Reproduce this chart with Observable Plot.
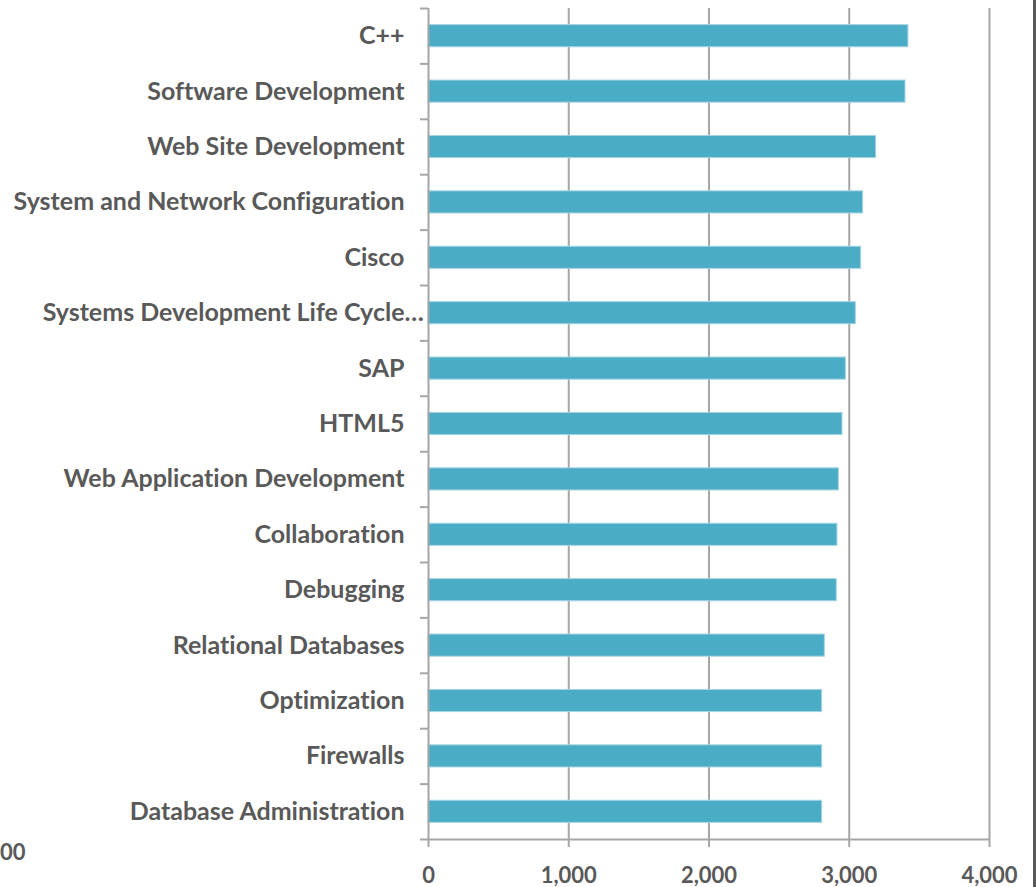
<!DOCTYPE html>
<html>
<head>
<meta charset="utf-8">
<script src="https://cdn.jsdelivr.net/npm/d3@7"></script>
<script src="https://cdn.jsdelivr.net/npm/@observablehq/plot@0.6"></script>
<style>
  html, body { margin: 0; padding: 0; background: #fff; }
  #wrap { position: relative; width: 1036px; height: 887px; overflow: hidden; background: #fff; }
  #edge { position: absolute; left: 1033px; top: 0; width: 3px; height: 887px; background: #595959; }
  #stray { position: absolute; left: 0; top: 840px; width: 22px; text-align: right; font: bold 22px Lato, sans-serif; color: #595959; line-height: 24px; }
  svg text { font-variant-ligatures: none; }
</style>
</head>
<body>
<div id="wrap"><div id="chart"></div><div id="stray">00</div><div id="edge"></div></div>
<script>
const categories = [
  "C++",
  "Software Development",
  "Web Site Development",
  "System and Network Configuration",
  "Cisco",
  "Systems Development Life Cycle…",
  "SAP",
  "HTML5",
  "Web Application Development",
  "Collaboration",
  "Debugging",
  "Relational Databases",
  "Optimization",
  "Firewalls",
  "Database Administration"
];
const values = [3422, 3401, 3192, 3099, 3085, 3047, 2976, 2952, 2926, 2916, 2911, 2826, 2807, 2807, 2807];
const xTicks = [0, 1000, 2000, 3000, 4000];

const data = categories.map((c, i) => ({category: c, value: values[i], i}));
const n = categories.length;
const boundaries = d3.range(n + 1);

const gray = "#a6a6a6";
const textColor = "#595959";

const chart = Plot.plot({
  width: 1036,
  height: 887,
  marginLeft: 428,
  marginRight: 47,
  marginTop: 8,
  marginBottom: 48,
  style: {fontFamily: "Lato, sans-serif", fontWeight: "bold", color: textColor, background: "#fff"},
  x: {domain: [0, 4000]},
  y: {domain: [0, n], reverse: true},
  marks: [
    Plot.ruleX(xTicks.filter(d => d > 0), {stroke: gray, strokeWidth: 2}),
    Plot.rectX(data, {x1: 0, x2: "value", y1: d => d.i + 0.3, y2: d => d.i + 0.7, fill: "#4bacc6", stroke: "#a8d5e3", strokeWidth: 1}),
    Plot.ruleX([0], {stroke: gray, strokeWidth: 2}),
    Plot.ruleY([n], {stroke: gray, strokeWidth: 2}),
    Plot.axisY({ticks: boundaries, tickSize: 8, tickFormat: () => "", stroke: gray, strokeWidth: 2, label: null}),
    Plot.text(data, {x: 0, y: d => d.i + 0.5, text: d => d.category.replace(/…$/, ""), textAnchor: "end", dx: -24, fontSize: 25, fill: textColor, fontWeight: "bold"}),
    Plot.text(data.filter(d => d.category.endsWith("…")), {x: 0, y: d => d.i + 0.5, text: () => "…", textAnchor: "start", dx: -24, fontSize: 25, fill: textColor, fontWeight: "bold"}),
    Plot.axisX({ticks: xTicks, tickSize: 8, tickPadding: 20, tickFormat: d3.format(","), fontSize: 22, fill: textColor, stroke: gray, strokeWidth: 2, label: null})
  ]
});
document.getElementById("chart").appendChild(chart);
</script>
</body>
</html>
